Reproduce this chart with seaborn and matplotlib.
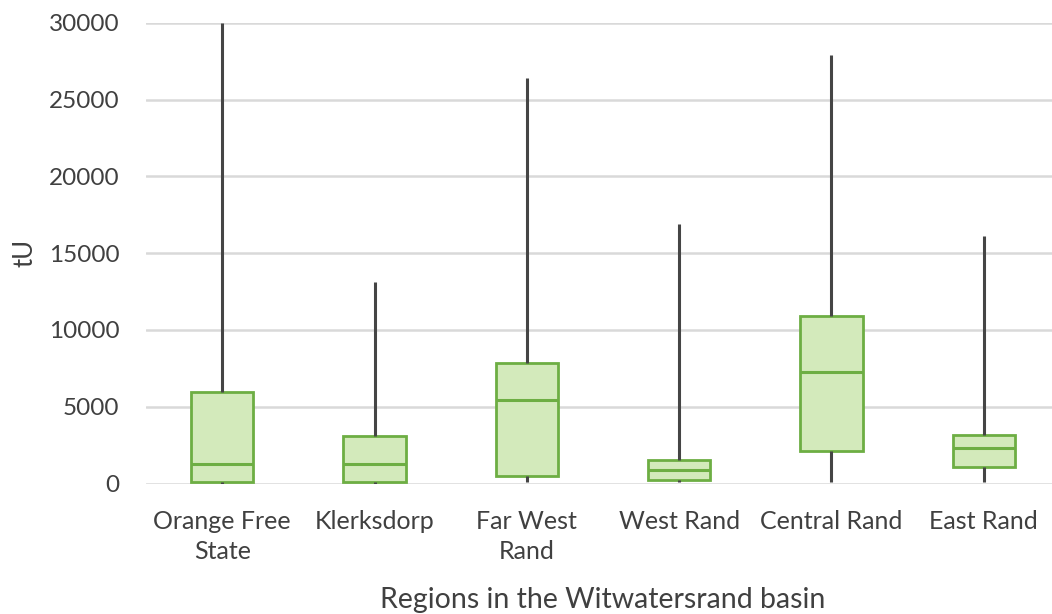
import numpy as np
import pandas as pd
import seaborn as sns
import matplotlib.pyplot as plt

# Five-number summaries (min, Q1, median, Q3, max) in tonnes of uranium
regions = ["Orange Free\nState", "Klerksdorp", "Far West\nRand", "West Rand", "Central Rand", "East Rand"]
orange_free_state = [0, 130, 1280, 5940, 30000]
klerksdorp = [0, 130, 1280, 3080, 13140]
far_west_rand = [85, 475, 5450, 7850, 26370]
west_rand = [85, 260, 910, 1560, 16920]
central_rand = [85, 2100, 7240, 10885, 27890]
east_rand = [85, 1060, 2300, 3170, 16135]

series = [orange_free_state, klerksdorp, far_west_rand, west_rand, central_rand, east_rand]
df = pd.DataFrame(
    [(r, v) for r, vals in zip(regions, series) for v in vals],
    columns=["region", "tU"],
)

sns.set_theme(style="white")
plt.rcParams["font.family"] = ["Lato", "DejaVu Sans"]

fig = plt.figure(figsize=(10.52, 6.14), dpi=100)
ax = fig.add_axes([146 / 1052, 1 - 483.5 / 614, 914 / 1052, (483.5 - 22.7) / 614])

edge = "#6dae43"
sns.boxplot(
    data=df, x="region", y="tU", order=regions, ax=ax,
    whis=np.inf, width=0.41, color="#d3eabb", linewidth=2.0,
    showcaps=False,
    boxprops=dict(facecolor="#d3eabb", edgecolor=edge, linewidth=2.0),
    medianprops=dict(color=edge, linewidth=2.2),
    whiskerprops=dict(color="#454545", linewidth=2.2),
    zorder=3,
)

ax.set_ylim(0, 30000)
ax.set_yticks(np.arange(0, 30001, 5000))
ax.yaxis.grid(True, color="#d9d9d9", linewidth=1.8, zorder=0)
ax.set_axisbelow(True)
for s in ax.spines.values():
    s.set_visible(False)
ax.tick_params(axis="y", length=0, labelsize=17.5, colors="#404040", pad=19)
ax.tick_params(axis="x", length=0, labelsize=18, colors="#404040", pad=19)
for lab in ax.get_xticklabels():
    lab.set_linespacing(1.38)
ax.set_ylabel("tU", fontsize=18.5, color="#404040", labelpad=8)
ax.set_xlabel("Regions in the Witwatersrand basin", fontsize=20.5, color="#404040", labelpad=17)

fig.savefig("out.png", dpi=100)
